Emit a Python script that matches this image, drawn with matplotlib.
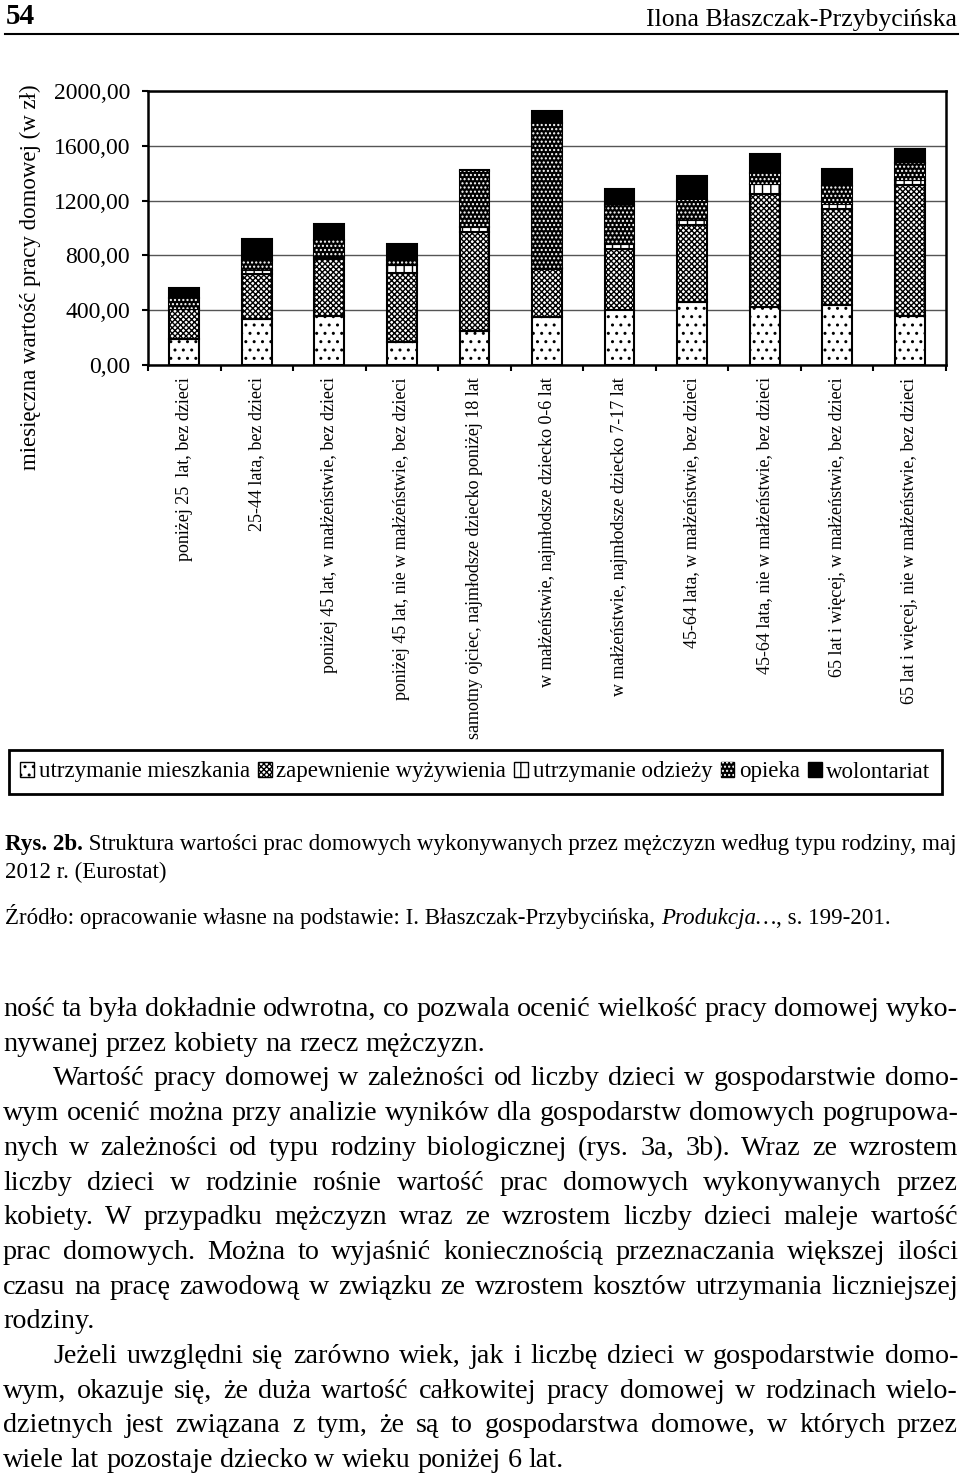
import numpy as np
import matplotlib
matplotlib.use('Agg')
import matplotlib.pyplot as plt
from matplotlib.patches import Patch
from matplotlib.lines import Line2D

W, H = 960, 1481
SERIF = 'Liberation Serif'
plt.rcParams['font.family'] = SERIF
plt.rcParams['hatch.linewidth'] = 1.0

categories = [
    'poniżej 25  lat, bez dzieci',
    '25-44 lata, bez dzieci',
    'poniżej 45 lat, w małżeństwie, bez dzieci',
    'poniżej 45 lat, nie w małżeństwie, bez dzieci',
    'samotny ojciec, najmłodsze dziecko poniżej 18 lat',
    'w małżeństwie, najmłodsze dziecko 0-6 lat',
    'w małżeństwie, najmłodsze dziecko 7-17 lat',
    '45-64 lata, w małżeństwie, bez dzieci',
    '45-64 lata, nie w małżeństwie, bez dzieci',
    '65 lat i więcej, w małżeństwie, bez dzieci',
    '65 lat i więcej, nie w małżeństwie, bez dzieci',
]
mieszkanie = [192, 334, 358, 166, 248, 351, 404, 460, 424, 441, 358]
wyzywienie = [215, 333, 419, 509, 724, 348, 446, 565, 823, 701, 954]
odziez = [5, 30, 12, 58, 36, 12, 31, 32, 73, 32, 42]
opieka = [80, 68, 122, 32, 409, 1057, 285, 146, 83, 131, 117]
wolontariat = [73, 155, 117, 116, 5, 85, 117, 178, 136, 124, 104]

series_names = ['utrzymanie mieszkania', 'zapewnienie wyżywienia',
                'utrzymanie odzieży', 'opieka', 'wolontariat']
yticks = [0, 400, 800, 1200, 1600, 2000]

body = [
    # (line, justify, indent)
    ('ność ta była dokładnie odwrotna, co pozwala ocenić wielkość pracy domowej wyko-', True, 0),
    ('nywanej przez kobiety na rzecz mężczyzn.', False, 0),
    ('Wartość pracy domowej w zależności od liczby dzieci w gospodarstwie domo-', True, 50),
    ('wym ocenić można przy analizie wyników dla gospodarstw domowych pogrupowa-', True, 0),
    ('nych w zależności od typu rodziny biologicznej (rys. 3a, 3b). Wraz ze wzrostem', True, 0),
    ('liczby dzieci w rodzinie rośnie wartość prac domowych wykonywanych przez', True, 0),
    ('kobiety. W przypadku mężczyzn wraz ze wzrostem liczby dzieci maleje wartość', True, 0),
    ('prac domowych. Można to wyjaśnić koniecznością przeznaczania większej ilości', True, 0),
    ('czasu na pracę zawodową w związku ze wzrostem kosztów utrzymania liczniejszej', True, 0),
    ('rodziny.', False, 0),
    ('Jeżeli uwzględni się zarówno wiek, jak i liczbę dzieci w gospodarstwie domo-', True, 50),
    ('wym, okazuje się, że duża wartość całkowitej pracy domowej w rodzinach wielo-', True, 0),
    ('dzietnych jest związana z tym, że są to gospodarstwa domowe, w których przez', True, 0),
    ('wiele lat pozostaje dziecko w wieku poniżej 6 lat.', False, 0),
]

fig = plt.figure(figsize=(9.6, 14.81), dpi=100)
r = fig.canvas.get_renderer()


def fy(y):
    return 1 - y / H


def width_of(s, size, **kw):
    t = fig.text(0, 0, s, fontsize=size, **kw)
    w = t.get_window_extent(r).width
    t.remove()
    return w


# header
fig.text(6 / W, fy(24), '54', fontsize=21, fontweight='bold', va='baseline')
fig.text(957 / W, fy(26), 'Ilona Błaszczak-Przybycińska', fontsize=18.5,
         ha='right', va='baseline')
fig.add_artist(Line2D([5 / W, 958 / W], [fy(34), fy(34)], color='black', lw=1.5))

# chart
ax = fig.add_axes([148 / W, fy(365), (946 - 148) / W, (365 - 91) / H])
x = np.arange(len(categories))
bw = 0.41
bottom = np.zeros(len(x))
ax.bar(x, mieszkanie, bw, bottom=bottom, facecolor='white', edgecolor='black',
       hatch='..', lw=1.5, zorder=3)
bottom += mieszkanie
ax.bar(x, wyzywienie, bw, bottom=bottom, facecolor='white', edgecolor='black',
       hatch='xxxxxx', lw=1.5, zorder=3)
bottom += wyzywienie
ax.bar(x, odziez, bw, bottom=bottom, facecolor='white', edgecolor='black',
       hatch='||', lw=1.5, zorder=3)
bottom += odziez
ax.bar(x, opieka, bw, bottom=bottom, facecolor='black', edgecolor='black',
       lw=1.5, zorder=3)
ax.bar(x, opieka, bw, bottom=bottom, facecolor='none', edgecolor='white',
       hatch='....', lw=0, zorder=4)
bottom += opieka
ax.bar(x, wolontariat, bw, bottom=bottom, facecolor='black', edgecolor='black',
       lw=1.5, zorder=3)

ax.set_xlim(-0.5, len(x) - 0.5)
ax.set_ylim(0, 2000)
ax.set_yticks(yticks)
ax.set_yticklabels([f'{v:.2f}'.replace('.', ',') for v in yticks], fontsize=17)
ax.set_xticks(x)
ax.set_xticklabels(categories, rotation=90, fontsize=13)
ax.set_xticks(np.arange(-0.5, len(x)), minor=True)
ax.tick_params(axis='x', which='major', length=0, pad=9)
ax.tick_params(axis='x', which='minor', length=4, width=1.5, direction='out')
ax.tick_params(axis='y', length=4, width=1.5, pad=9)
ax.grid(axis='y', color='#555555', lw=1, zorder=0)
for s in ax.spines.values():
    s.set_linewidth(1.8)

fig.text(30 / W, fy(277), 'miesięczna wartość pracy domowej (w zł)', fontsize=16.5,
         rotation=90, ha='center', va='center')

# legend
handles = [
    Patch(facecolor='white', edgecolor='black', hatch='..'),
    Patch(facecolor='white', edgecolor='black', hatch='xxxxxx'),
    Patch(facecolor='white', edgecolor='black', hatch='||'),
    (Patch(facecolor='black', edgecolor='black'),
     Patch(facecolor='none', edgecolor='white', hatch='....', lw=0)),
    Patch(facecolor='black', edgecolor='black'),
]
leg = fig.legend(handles, series_names, loc='center', ncol=5, mode='expand',
                 bbox_to_anchor=(9 / W, fy(796), (942 - 9) / W, 48 / H),
                 fontsize=16.5, handlelength=0.6, handleheight=0.6,
                 handletextpad=0.2, columnspacing=0.3, borderpad=0.5,
                 borderaxespad=0, fancybox=False, framealpha=1, edgecolor='black')
leg.get_frame().set_linewidth(2)

# caption
cap1 = [('Rys. 2b.', 'bold', 'normal'),
        (' Struktura wartości prac domowych wykonywanych przez mężczyzn według typu rodziny, maj',
         'normal', 'normal')]
nat = sum(width_of(t, 10, fontweight=wt, fontstyle=st) for t, wt, st in cap1)
csize = 10 * 953 / nat


def runs(y, parts, x0, size):
    xx = x0
    for t, wt, st in parts:
        fig.text(xx / W, fy(y), t, fontsize=size, fontweight=wt, fontstyle=st,
                 va='baseline')
        xx += width_of(t, size, fontweight=wt, fontstyle=st)


runs(850, cap1, 5, csize)
runs(878, [('2012 r. (Eurostat)', 'normal', 'normal')], 5, csize)
runs(924, [('Źródło: opracowanie własne na podstawie: I. Błaszczak-Przybycińska, ', 'normal', 'normal'),
           ('Produkcja…', 'normal', 'italic'),
           (', s. 199-201.', 'normal', 'normal')], 5, csize)

# body text, justified
x0, x1 = 3, 958
fits = []
for line, just, ind in body:
    if just:
        words = line.split()
        n = sum(width_of(w, 10) for w in words) + (len(words) - 1) * 10 * 100 / 72 * 0.25
        fits.append(10 * (x1 - x0 - ind) / n)
bsize = min(fits)
space = bsize * 100 / 72 * 0.25
for i, (line, just, ind) in enumerate(body):
    y = 1016 + i * 34.7
    words = line.split()
    ws = [width_of(w, bsize) for w in words]
    gap = space
    if just and len(words) > 1:
        gap = (x1 - x0 - ind - sum(ws)) / (len(words) - 1)
    xx = x0 + ind
    for w, wd in zip(words, ws):
        fig.text(xx / W, fy(y), w, fontsize=bsize, va='baseline')
        xx += wd + gap

fig.savefig('out.png', dpi=100)
